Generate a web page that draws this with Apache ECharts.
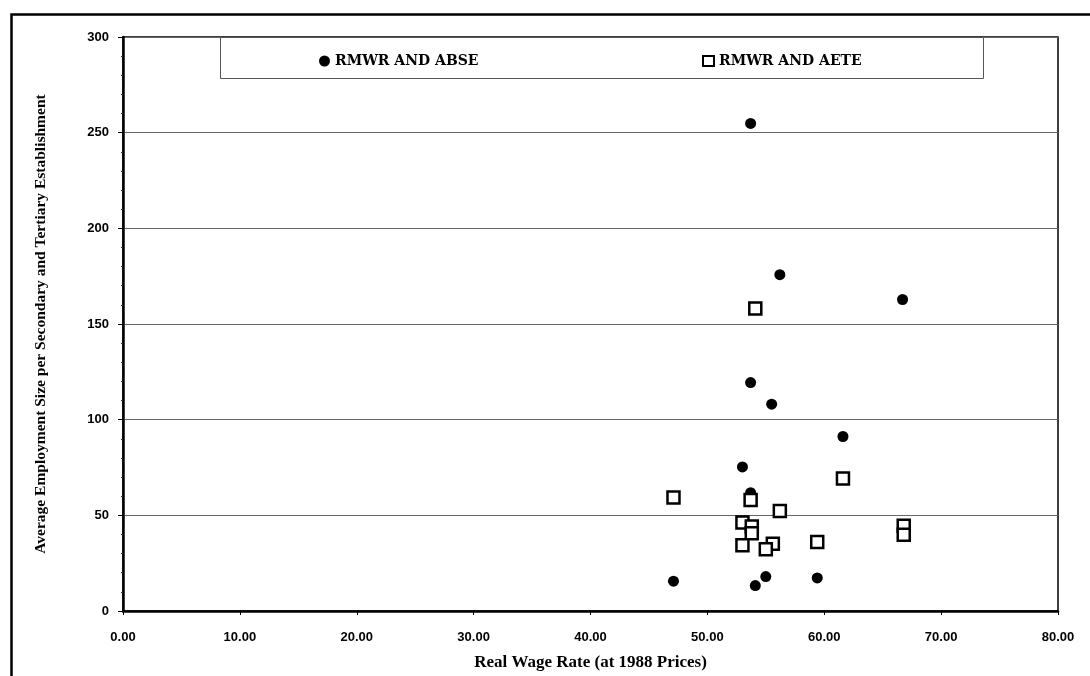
<!DOCTYPE html>
<html>
<head>
<meta charset="utf-8">
<script src="https://cdn.jsdelivr.net/npm/echarts@6/dist/echarts.min.js"></script>
<style>html,body{margin:0;padding:0;background:#fff;}#c{width:1090px;height:676px;}</style>
</head>
<body>
<div id="c"></div>
<script>
const seriesNames = ['RMWR AND ABSE', 'RMWR AND AETE'];
const abseX = [53.7, 56.2, 66.7, 53.7, 55.5, 61.6, 53.0, 53.7, 47.1, 55.0, 54.1, 59.4];
const abseY = [254.8, 175.8, 162.8, 119.4, 108.1, 91.2, 75.3, 61.8, 15.6, 18.0, 13.3, 17.3];
const aeteX = [54.1, 61.6, 47.1, 53.7, 56.2, 53.0, 53.8, 53.8, 53.0, 55.6, 55.0, 59.4, 66.8, 66.8];
const aeteY = [158.1, 69.2, 59.3, 58.0, 52.3, 46.2, 44.1, 40.6, 34.3, 35.1, 32.3, 36.0, 44.5, 39.8];
const xTitle = 'Real Wage Rate (at 1988 Prices)';
const yTitle = 'Average Employment Size per Secondary and Tertiary Establishment';

const pairs = (xs, ys) => xs.map((x, i) => [x, ys[i]]);
const chart = echarts.init(document.getElementById('c'));
const legendText = {fontFamily: 'DejaVu Serif', fontWeight: 'bold', fontSize: 14, color: '#000'};
chart.setOption({
  backgroundColor: '#fff',
  animation: false,
  grid: {left: 123, top: 37, right: 32, bottom: 61, show: true, borderColor: '#000', borderWidth: 1.5, backgroundColor: 'transparent'},
  legend: [
    {data: [{name: seriesNames[0], icon: 'circle'}], left: 314, top: 49, itemWidth: 11, itemHeight: 11, itemGap: 0, textStyle: legendText, z: 20},
    {data: [{name: seriesNames[1], icon: 'rect'}], left: 697, top: 49, itemWidth: 11, itemHeight: 10, textStyle: legendText, z: 20}
  ],
  xAxis: {
    type: 'value', min: 0, max: 80, interval: 10,
    name: xTitle, nameLocation: 'middle', nameGap: 43,
    nameTextStyle: {fontFamily: 'Liberation Serif', fontWeight: 'bold', fontSize: 17, color: '#000'},
    axisLine: {lineStyle: {color: '#000', width: 2.5}},
    axisTick: {show: true, length: 4, lineStyle: {color: '#000', width: 1}},
    axisLabel: {formatter: v => v.toFixed(2), fontFamily: 'Liberation Sans', fontWeight: 'bold', fontSize: 13, color: '#000', margin: 20},
    splitLine: {show: false}
  },
  yAxis: {
    type: 'value', min: 0, max: 300, interval: 50,
    name: yTitle, nameLocation: 'middle', nameGap: 74, nameRotate: 90,
    nameTextStyle: {fontFamily: 'Liberation Serif', fontWeight: 'bold', fontSize: 15.5, color: '#000'},
    axisLine: {lineStyle: {color: '#000', width: 2.5}},
    axisTick: {show: true, length: 5, lineStyle: {color: '#000', width: 1}},
    minorTick: {show: true, splitNumber: 5, length: 2, lineStyle: {color: '#333'}},
    axisLabel: {fontFamily: 'Liberation Sans', fontWeight: 'bold', fontSize: 13, color: '#000', margin: 14},
    splitLine: {show: true, lineStyle: {color: '#666', width: 1.2}}
  },
  graphic: [
    {type: 'rect', left: 220, top: 37, z: 10, shape: {width: 763, height: 41}, style: {fill: '#fff', stroke: '#555', lineWidth: 1}},
    {type: 'rect', left: 9, top: 12, z: 10, shape: {width: 1200, height: 800}, style: {fill: null, stroke: '#000', lineWidth: 2.5}}
  ],
  series: [
    {name: seriesNames[0], type: 'scatter', symbol: 'circle', symbolSize: 11, data: pairs(abseX, abseY), itemStyle: {color: '#000', opacity: 1}, z: 3},
    {name: seriesNames[1], type: 'scatter', symbol: 'rect', symbolSize: 12, data: pairs(aeteX, aeteY), itemStyle: {color: '#fff', borderColor: '#000', borderWidth: 2.5, opacity: 1}, z: 4}
  ]
});
</script>
</body>
</html>
